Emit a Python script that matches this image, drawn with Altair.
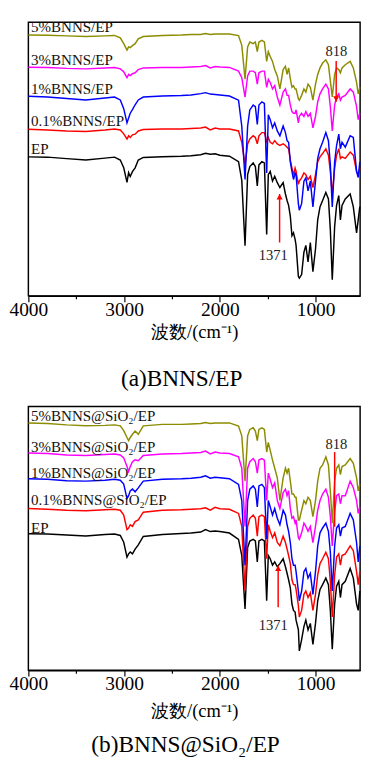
import altair as alt
import pandas as pd

# Wavenumber grid (cm-1) shared by all spectra
WAVENUMBERS = [4000, 3800, 3600, 3400, 3200, 3100, 3040, 3004, 2970, 2953, 2936, 2913, 2885, 2852, 2800,
               2600, 2400, 2300, 2200, 2150, 2100, 2050, 2000, 1900, 1805, 1771, 1737, 1710, 1687, 1652,
               1629, 1609, 1592, 1561, 1535, 1511, 1494, 1474, 1450, 1427, 1400, 1373, 1339, 1315, 1298,
               1282, 1264, 1247, 1231, 1214, 1204, 1180, 1170, 1146, 1122, 1102, 1079, 1055, 1028, 1001,
               978, 954, 927, 893, 866, 846, 826, 801, 781, 758, 741, 724, 690, 639, 606, 572, 555, 538]

# Panel (a) BNNS/EP, transmittance (a.u., offset)
A_EP = [143.3, 143, 141.5, 140, 142, 143, 140, 132, 117, 127, 123, 128, 132, 140, 142.7,
        143.5, 144, 144.5, 145.5, 147, 146, 146.5, 145, 144, 138.3, 119, 51.7, 125, 133.3, 137,
        133.3, 113.3, 135, 138.3, 137, 63.3, 125, 128.3, 118.3, 123.3, 116.7, 111.7, 116.7, 105, 98.3,
        93.3, 82, 62, 65, 58.3, 52, 20, 18.3, 22, 45, 52, 35, 55, 25, 48.3,
        78.3, 91.7, 98.3, 106.7, 100, 68.3, 16.7, 71.7, 93.3, 103.3, 78.3, 93.3, 100, 105, 91.7, 65, 78.3, 92]
A_01 = [171.7, 171, 170, 169.5, 171, 172, 171, 167, 161.7, 165, 163.3, 166, 166.7, 170, 171.5,
        172, 172, 172.5, 173, 174, 171, 173, 172, 172, 170, 158.3, 135, 156.7, 161.7, 165,
        163.3, 156.7, 165, 168.3, 168.3, 159, 163.3, 158.3, 156.7, 160, 156.7, 155, 156.7, 155, 153.3,
        151.7, 140, 131.7, 125, 131.7, 128.3, 115, 118.3, 121.7, 126.7, 125, 120, 123.3, 111.7, 125,
        138.3, 143.3, 146.7, 151.7, 145, 128.3, 105, 131.7, 145, 151.7, 141.7, 143.3, 141.7, 148.3, 145, 128.3, 125, 131.7]
A_1 = [205.7, 205, 203.5, 202, 204, 205, 202, 193, 178.3, 183.3, 188.3, 192, 197, 202, 205,
       206, 206.5, 207, 208.5, 209.5, 208, 207.5, 207, 206, 201.7, 175, 120, 175, 191.7, 196.7,
       195, 176.7, 196.7, 200, 198.3, 126.7, 186.7, 181.7, 173.3, 178.3, 170, 165, 175, 168.3, 160,
       158.3, 138, 128.3, 120, 126.7, 125, 95, 88.3, 95, 118.3, 121.7, 108.3, 118.3, 91.7, 118.3,
       141.7, 151.7, 158.3, 168.3, 160, 135, 91.7, 138.3, 155, 166.7, 151.7, 158.3, 153.3, 165, 163.3, 128.3, 122, 138.3]
A_3 = [235.7, 235.5, 234.5, 234, 235, 235.5, 234, 231, 225, 228.3, 227, 229, 230, 233.3, 235,
       235.5, 235.5, 236, 236.5, 237.5, 235, 236.5, 236, 235.5, 231.7, 225, 205, 226.7, 231.7, 231.7,
       230, 218.3, 230, 231.7, 231.7, 215, 223.3, 220, 213.3, 216.7, 205, 196.7, 210, 213.3, 206.7,
       206.7, 196.7, 190, 188.3, 188.3, 191.7, 178.3, 185, 188.3, 185, 190, 185, 188.3, 173.3, 185,
       200, 208.3, 213.3, 218.3, 213.3, 195, 170, 196.7, 205, 208.3, 201.7, 205, 206.7, 213.3, 210, 195, 181.7, 188.3]
A_5 = [269, 268.7, 268, 267.3, 268, 268.5, 266, 260, 253.3, 256.7, 256, 258, 260, 265, 267.3,
       268.5, 269, 269.5, 269.5, 270.5, 269.5, 270, 270, 270, 268.3, 258.3, 223.3, 256.7, 261.7, 260,
       261.7, 251.7, 261.7, 263.3, 261.7, 241.7, 251.7, 246.7, 241.7, 233.3, 226.7, 213.3, 233.3, 236.7, 228.3,
       235, 224, 215, 216.7, 213.3, 213.3, 203.3, 201.7, 206.7, 213.3, 210, 218.3, 215, 201.7, 218.3,
       228.3, 235, 240, 243.3, 238.3, 221.7, 205, 228.3, 235, 233.3, 230, 235, 238.3, 241.7, 235, 220, 208.3, 215]

# Panel (b) BNNS@SiO2/EP
B_EP = [140.7, 140.5, 139.5, 138.5, 140, 140.5, 139, 132, 116.7, 120, 122, 120, 125, 129.3, 138,
        140, 141, 141.5, 142.5, 145, 143, 143.5, 143, 141.5, 135, 118.3, 63.3, 126.7, 133.3, 135,
        133.3, 111.7, 133.3, 135, 133.3, 71.7, 118.3, 115, 108.3, 111.7, 106.7, 110, 115, 106.7, 100,
        93.3, 85, 68.3, 61.7, 60, 51.7, 42, 20, 31.7, 45, 51.7, 41.7, 48.3, 26.7, 48.3,
        71.7, 83.3, 88.3, 95, 88.3, 61.7, 21.7, 68.3, 86.7, 91.7, 75, 88.3, 91.7, 105, 95, 68.3, 61.7, 81.7]
B_01 = [166.7, 166, 165, 164.5, 165.5, 166, 165, 160, 145, 146.7, 150, 148.3, 153.3, 155, 163,
        165, 165.5, 166, 166.5, 167.5, 165, 168, 166.5, 166, 161.7, 148.3, 81.7, 148.3, 156.7, 160,
        156.7, 138.3, 158.3, 160, 158.3, 115, 150, 143.3, 136.7, 141.7, 131.7, 128.3, 138.3, 131.7, 125,
        118.3, 110, 93.3, 88.3, 88.3, 83.3, 66.7, 55, 61.7, 78.3, 81.7, 75, 80, 61.7, 78.3,
        98.3, 110, 115, 121.7, 115, 91.7, 55, 98.3, 116.7, 120, 108.3, 118.3, 120, 128.3, 123.3, 101.7, 88.3, 101.7]
B_1 = [197.5, 197, 195.5, 195, 196, 197, 196, 192, 177, 180, 185, 187, 184, 188, 195,
       197, 197.5, 198, 199, 200.5, 198, 199, 198.5, 197.5, 191.7, 175, 108.3, 175, 186.7, 190,
       186.7, 168.3, 190, 191.7, 188.3, 135, 175, 168.3, 160, 166.7, 156.7, 150, 165, 160, 150,
       143.3, 131.7, 115, 108.3, 108.3, 101.7, 81.7, 71.7, 81.7, 101.7, 105, 95, 100, 78.3, 101.7,
       128.3, 141.7, 146.7, 151.7, 143.3, 121.7, 81.7, 128.3, 146.7, 150, 138.3, 146.7, 148.3, 161.7, 155, 131.7, 111.7, 128.3]
B_3 = [224, 223.5, 222, 221.5, 222.5, 223, 222, 219, 210, 205, 210, 215, 217, 216, 221.5,
       223, 223.5, 224, 224.5, 226, 223, 225, 224, 223.5, 220, 208.3, 148.3, 208.3, 215, 218.3,
       215, 203.3, 216.7, 218.3, 216.7, 175, 203.3, 196.7, 188.3, 193.3, 175, 166.7, 183.3, 186.7, 180,
       185, 166.7, 156.7, 158.3, 151.7, 155, 136.7, 135, 141.7, 151.7, 148.3, 143.3, 148.3, 131.7, 148.3,
       165, 175, 181.7, 186.7, 178.3, 158.3, 128.3, 163.3, 180, 181.7, 171.7, 180, 180, 195, 188.3, 175, 161.7, 168.3]
B_5 = [255, 254.5, 253, 252, 252.5, 253, 252, 247, 240, 236.7, 240, 243.3, 246.7, 243.3, 252,
       253.5, 253.5, 254, 254.5, 255.5, 254.5, 255, 255, 255, 251.7, 241.7, 195, 241.7, 248.3, 250,
       246.7, 236.7, 248.3, 250, 248.3, 225, 235, 226.7, 216.7, 208.3, 198.3, 175, 198.3, 208.3, 203.3,
       208.3, 195, 181.7, 181.7, 178.3, 178.3, 155, 155, 165, 175, 171.7, 178.3, 175, 158.3, 175,
       195, 208.3, 211.7, 220, 211.7, 185, 151.7, 195, 208.3, 211.7, 201.7, 210, 211.7, 218.3, 213.3, 198.3, 185, 191.7]

SERIES_A = ["EP", "0.1%BNNS/EP", "1%BNNS/EP", "3%BNNS/EP", "5%BNNS/EP"]
SERIES_B = ["EP", "0.1%BNNS@SiO₂/EP", "1%BNNS@SiO₂/EP", "3%BNNS@SiO₂/EP", "5%BNNS@SiO₂/EP"]
COLORS = ["#000000", "#ff0000", "#0000ff", "#ff00ff", "#8c8c00"]
LABEL_Y_A = [146, 175, 208, 238, 272]
LABEL_Y_B = [142, 170, 198, 225, 257]
LABEL_W = 3972

# annotations: peak labels and arrows
PEAK_TEXT = ["818", "1371"]
PEAK_TEXT_W = [783, 1442]
PEAK_TEXT_Y_A = [247, 37]
PEAK_TEXT_Y_B = [228, 42]
ARROW_W_A = [785, 1376]
ARROW_FROM_A = [242, 55]
ARROW_TO_A = [200, 105]
ARROW_W_B = [801, 1391]
ARROW_FROM_B = [225, 65]
ARROW_TO_B = [148, 108]
HEADS_A = [(785, 203, "triangle-down"), (1376, 102, "triangle-up")]
HEADS_B = [(1391, 105, "triangle-up")]

TICKS = [4000, 3500, 3000, 2500, 2000, 1500, 1000]
XDOM = [4000, 535]

SERIF = "Liberation Serif"


def spectra_df(names, arrays):
    rows = []
    for i, (n, arr) in enumerate(zip(names, arrays)):
        for w, v in zip(WAVENUMBERS, arr):
            rows.append({"w": w, "v": v, "series": n, "k": i})
    return pd.DataFrame(rows)


def panel(names, arrays, label_y, text_y, arrow_w, a_from, a_to, heads, height, title,
          title_dx, title_pad, sub_offset):
    ydom = [0, height]
    xs = alt.Scale(domain=XDOM, nice=False, zero=False)
    ys = alt.Scale(domain=ydom, nice=False, zero=False)
    df = spectra_df(names, arrays)
    lines = alt.Chart(df).mark_line(strokeWidth=1.5).encode(
        x=alt.X("w:Q", scale=xs, axis=alt.Axis(
            values=TICKS, format="d",
            tickSize={"condition": {"test": "datum.value % 1000 === 0", "value": 6}, "value": 3},
            labelExpr="datum.value % 1000 === 0 ? datum.label : ''",
            tickWidth=1.2, tickColor="black",
            domainColor="black", domainWidth=1.5, labelFont=SERIF, labelFontSize=20,
            labelColor="black", labelFlush=False, labelPadding=-2, grid=False, labelOverlap=False,
            title="波数/(cm⁻¹)", titleFont=SERIF, titleFontSize=19, titleFontWeight="normal",
            titleColor="black", titlePadding=title_pad, orient="bottom")),
        y=alt.Y("v:Q", scale=ys, axis=None),
        color=alt.Color("k:N", scale=alt.Scale(domain=[0, 1, 2, 3, 4], range=COLORS), legend=None),
    )
    ldf = pd.DataFrame({"w": [LABEL_W] * len(names), "v": label_y, "t": names})
    labels = alt.Chart(ldf).mark_text(align="left", baseline="alphabetic", font=SERIF,
                                      fontSize=15.5, color="#111111").encode(
        x=alt.X("w:Q", scale=xs), y=alt.Y("v:Q", scale=ys), text="t:N")
    pdf = pd.DataFrame({"w": PEAK_TEXT_W, "v": text_y, "t": PEAK_TEXT})
    peaks = alt.Chart(pdf).mark_text(align="center", baseline="alphabetic", font=SERIF,
                                     fontSize=15, color="#222222").encode(
        x=alt.X("w:Q", scale=xs), y=alt.Y("v:Q", scale=ys), text="t:N")
    adf = pd.DataFrame({"w": arrow_w, "v": a_from, "v2": a_to})
    shafts = alt.Chart(adf).mark_rule(color="#ff0000", strokeWidth=1.5).encode(
        x=alt.X("w:Q", scale=xs), y=alt.Y("v:Q", scale=ys), y2="v2:Q")
    hdf = pd.DataFrame({"w": [h[0] for h in heads], "v": [h[1] for h in heads],
                        "s": [h[2] for h in heads]})
    tips = alt.Chart(hdf).mark_point(filled=True, color="#ff0000", opacity=1, size=40).encode(
        x=alt.X("w:Q", scale=xs), y=alt.Y("v:Q", scale=ys),
        shape=alt.Shape("s:N", scale=None))
    return alt.layer(lines, shafts, tips, labels, peaks).properties(
        width=342, height=height,
        title=alt.TitleParams(title, orient="bottom", font=SERIF, fontSize=24,
                              fontWeight="normal", color="black", offset=sub_offset, dx=title_dx),
    )


pa = panel(SERIES_A, [A_EP, A_01, A_1, A_3, A_5], LABEL_Y_A, PEAK_TEXT_Y_A, ARROW_W_A,
           ARROW_FROM_A, ARROW_TO_A, HEADS_A, 282, "(a)BNNS/EP", -13, 4, 27)
pb = panel(SERIES_B, [B_EP, B_01, B_1, B_3, B_5], LABEL_Y_B, PEAK_TEXT_Y_B, ARROW_W_B,
           ARROW_FROM_B, ARROW_TO_B, HEADS_B, 272, "(b)BNNS@SiO₂/EP", -9, 9, 13)

chart = alt.vconcat(pa, pb, spacing=14).properties(padding=0).configure_view(
    stroke="black", strokeWidth=1.5)

chart.save("out.html", embed_options={"renderer": "svg", "actions": False})
